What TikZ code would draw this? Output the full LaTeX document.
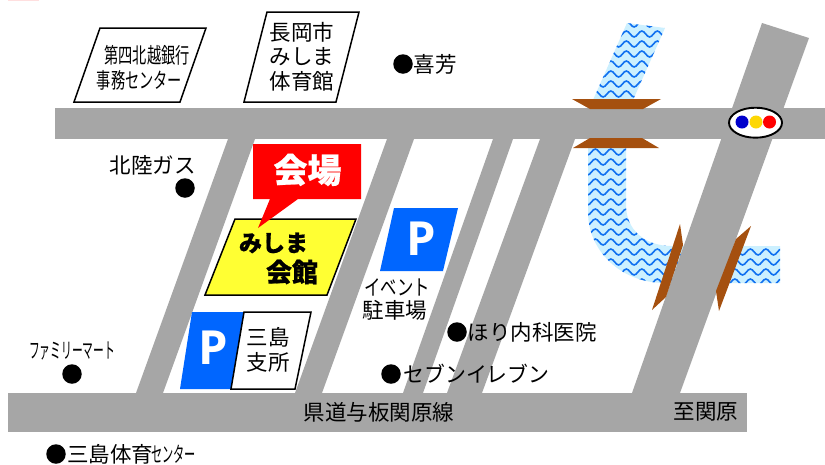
\documentclass[tikz,border=0pt]{standalone}
\usepackage{fontspec}
\setmainfont{Noto Sans CJK JP}
\newfontfamily\pfont{Open Sans}
\newfontfamily\heavy[FakeBold=0.7]{Noto Sans CJK JP}
\usetikzlibrary{decorations.pathmorphing,shapes.geometric}
\definecolor{road}{HTML}{A6A6A6}
\definecolor{parkblue}{HTML}{0066FF}
\definecolor{riverlight}{HTML}{CCF0FF}
\definecolor{riverwave}{HTML}{1070F0}
\definecolor{bridge}{HTML}{A5500F}
\definecolor{venue}{HTML}{FFFF33}
\newcommand{\fsz}[1]{\fontsize{#1}{#1}\selectfont}
\tikzset{
  x=1pt,y=-1pt,
  roadshape/.style={fill=road,draw=none},
  bridgeshape/.style={fill=bridge,draw=none},
  riverbody/.style={fill=riverlight,draw=none},
  wave/.style={draw=riverwave,line width=1.6pt,decorate,decoration={snake,segment length=15.5pt,amplitude=3pt}},
  signbox/.style={draw=black,line width=1.5pt,fill=white,line join=miter},
  dotmark/.style={circle,fill=black,draw=none,minimum size=19.5pt,inner sep=0pt},
  txt/.style={inner sep=0pt,outer sep=0pt,text=black,font=\fsz{21.5}},
  plabel/.style={inner sep=0pt,text=white,font=\pfont\bfseries\fsz{47}},
}
\begin{document}
\begin{tikzpicture}
\useasboundingbox (0,0) rectangle (825,464);
\fill[white] (0,0) rectangle (825,464);
\fill[fill=pink!50!white] (8,0) rectangle (39,1);
% river
\begin{scope}
\clip (627,23) -- (665,28) -- (633,100) -- (593,100) -- cycle;
\fill[riverbody] (580,15) rectangle (680,105);
\foreach \yy in {24,34,...,104}{\draw[wave] (575,\yy) -- (690,\yy);}
\end{scope}
\begin{scope}
\clip (588,146) -- (626,146) -- (626,205) .. controls (626,230) and (645,246) .. (672,246) -- (780,246) -- (780,283) -- (665,283) .. controls (620,283) and (588,250) .. (588,212) -- cycle;
\fill[riverbody] (580,140) rectangle (785,290);
\foreach \yy in {152,162,...,292}{\draw[wave] (575,\yy) -- (795,\yy);}
\end{scope}
% roads
\fill[roadshape] (228,139) -- (255,139) -- (163,393) -- (136,393) -- cycle;
\fill[roadshape] (387,139) -- (414,139) -- (322,393) -- (295,393) -- cycle;
\fill[roadshape] (493,139) -- (513,139) -- (423,393) -- (403,393) -- cycle;
\fill[roadshape] (540,139) -- (575,139) -- (482,393) -- (447,393) -- cycle;
\fill[roadshape] (762,23) -- (809,38) -- (680,393) -- (632,393) -- cycle;
\fill[roadshape] (55,108) rectangle (825,139);
\fill[roadshape] (8,393) rectangle (747,432);
% bridges
\fill[bridgeshape] (572,99) -- (661,99) -- (643,109) -- (590,109) -- cycle;
\fill[bridgeshape] (573,148) -- (659,148) -- (642,138) -- (590,138) -- cycle;
\fill[bridgeshape] (680,224) -- (683,245) -- (666,297) -- (652,310) -- cycle;
\fill[bridgeshape] (751,226) -- (736,239) -- (716,291) -- (719,311) -- cycle;
% station
\node[ellipse,draw=black,line width=1.9pt,fill=white,minimum width=53pt,minimum height=30pt,inner sep=0pt] (station) at (755.5,122.7) {};
\node[circle,fill=blue!80!black,minimum size=13pt,inner sep=0pt] (stblue) at (742,122) {};
\node[circle,fill=yellow!75!orange,minimum size=13pt,inner sep=0pt] (styellow) at (756,122) {};
\node[circle,fill=red,minimum size=13pt,inner sep=0pt] (stred) at (769.5,122) {};
% sign boxes
\draw[signbox] (100,28) -- (206,28) -- (180,102) -- (74,102) -- cycle;
\node[txt] (bank1) at (147,55) {\scalebox{.66}[1]{第四北越銀行}};
\node[txt] (bank2) at (139.5,80) {\scalebox{.66}[1]{事務センター}};
\draw[signbox] (267,12) -- (359,12) -- (336,102) -- (244,102) -- cycle;
\node[txt] (gym1) at (302,32) {長岡市};
\node[txt] (gym2) at (302,57) {みしま};
\node[txt] (gym3) at (302,81) {体育館};
% venue
\draw[fill=venue,draw=black,line width=1.5pt] (235,219) -- (356,219) -- (327,295) -- (205,295) -- cycle;
\fill[red] (253,144) -- (361,144) -- (361,199) -- (298,199) -- (258,228) -- (270,199) -- (253,199) -- cycle;
\node[inner sep=0pt,text=white,font=\heavy\bfseries\fsz{34}] (kaijo) at (307.5,170) {会場};
\node[txt,font=\heavy\bfseries\fsz{23}] (venue1) at (273.5,243) {みしま};
\node[txt,font=\heavy\bfseries\fsz{26}] (venue2) at (292,272) {会館};
% parking
\fill[parkblue] (394,208) -- (458,208) -- (443,271) -- (380,271) -- cycle;
\node[plabel] (p1) at (421.5,239) {P};
\fill[parkblue] (192,312) -- (245,312) -- (231,389) -- (180,389) -- cycle;
\node[plabel] (p2) at (213.5,348) {P};
\draw[signbox] (244,312) -- (311,312) -- (295,389) -- (231,389) -- cycle;
\node[txt] (mishima1) at (268,337) {三島};
\node[txt] (mishima2) at (268,362) {支所};
% labels
\node[txt] (ev1) at (397,287) {\scalebox{.76}[1]{イベント}};
\node[txt] (ev2) at (395,310) {駐車場};
\node[txt] (gas) at (152.5,165) {北陸ガス};
\node[dotmark] (gasdot) at (185,188) {};
\node[dotmark] (yoshidot) at (403,64) {};
\node[txt,anchor=west] (yoshi) at (413.5,64) {喜芳};
\node[dotmark] (horidot) at (457,332) {};
\node[txt,anchor=west] (hori) at (467.5,332) {ほり内科医院};
\node[dotmark] (sevendot) at (391,374) {};
\node[txt,anchor=west] (seven) at (403.5,374) {\scalebox{.97}[1]{セブンイレブン}};
\node[txt] (prefroad) at (379,412) {県道与板関原線};
\node[txt] (toseki) at (706,412) {至関原};
\node[txt] (fm) at (72,351) {\scalebox{.5}[1]{ファミリーマート}};
\node[dotmark] (fmdot) at (72,374) {};
\node[dotmark] (gymdot) at (56,454) {};
\node[txt,anchor=west] (gymlab) at (67,454) {三島体育};
\node[txt,anchor=west] (gymlab2) at (151,454) {\scalebox{.52}[1]{センター}};
\end{tikzpicture}
\end{document}
